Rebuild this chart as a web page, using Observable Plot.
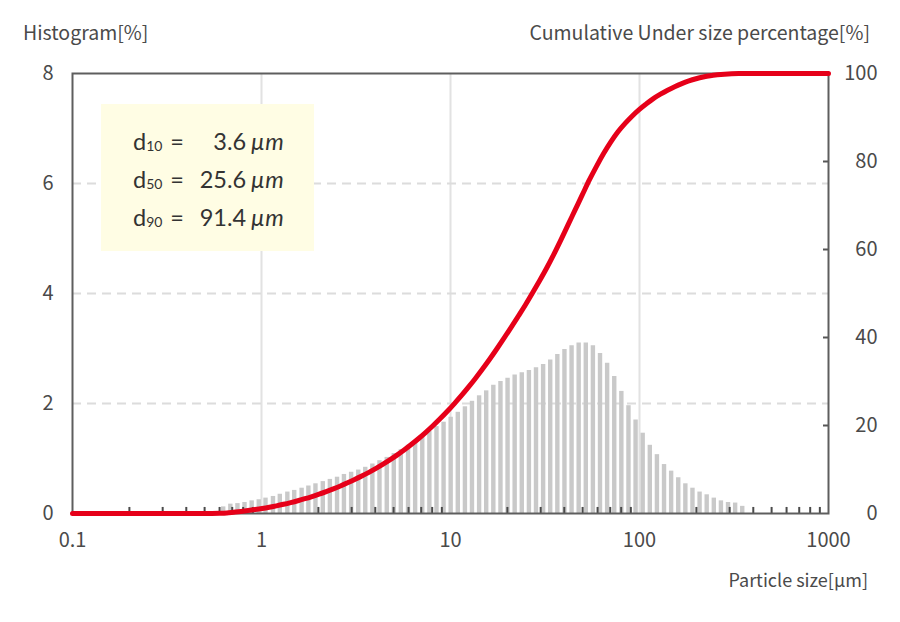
<!DOCTYPE html>
<html>
<head>
<meta charset="utf-8">
<script src="https://cdn.jsdelivr.net/npm/d3@7"></script>
<script src="https://cdn.jsdelivr.net/npm/@observablehq/plot@0.6"></script>
<style>
  html, body { margin: 0; padding: 0; background: #fff; }
  #wrap { position: relative; width: 900px; height: 622px; overflow: hidden; font-family: "Noto Sans CJK JP", "Noto Sans", sans-serif; color: #4a4a4a; }
  #wrap svg { position: absolute; left: 0; top: 0; }
  .ttl { position: absolute; font-size: 19.5px; line-height: 1; white-space: nowrap; }
  #box { position: absolute; left: 101px; top: 104px; width: 213px; height: 147px; background: #fffde4; font-family: Lato, "Open Sans", sans-serif; color: #333; box-sizing: border-box; padding: 18px 0 0 32px; }
  .ln { height: 38px; line-height: 38px; font-size: 23.5px; white-space: nowrap; }
  .ln sub { font-size: 14px; vertical-align: baseline; position: relative; top: 1px; display: inline-block; width: 20px; }
  .ln .eq { display: inline-block; width: 22px; text-align: center; }
  .ln .v { display: inline-block; width: 58px; text-align: right; }
  .ln i { margin-left: 5px; letter-spacing: 1px; }
</style>
</head>
<body>
<div id="wrap"></div>
<script>
// ---- data ----
const barSizes = [0.627, 0.684, 0.746, 0.813, 0.887, 0.967, 1.05, 1.15, 1.25, 1.37, 1.49, 1.63, 1.77, 1.93, 2.11, 2.30, 2.51, 2.73, 2.98, 3.25, 3.54, 3.86, 4.21, 4.60, 5.01, 5.46, 5.96, 6.50, 7.09, 7.73, 8.43, 9.19, 10.02, 10.93, 11.92, 12.99, 14.17, 15.45, 16.85, 18.38, 20.04, 21.85, 23.83, 25.99, 28.34, 30.91, 33.70, 36.75, 40.08, 43.71, 47.66, 51.98, 56.68, 61.81, 67.41, 73.51, 80.16, 87.42, 95.33, 103.96, 113.37, 123.63, 134.82, 147.02, 160.33, 174.84, 190.66, 207.92, 226.73, 247.25, 269.63, 294.03, 320.64, 349.66];
const histogramPct = [0.12, 0.17, 0.18, 0.20, 0.23, 0.25, 0.28, 0.31, 0.35, 0.39, 0.42, 0.46, 0.50, 0.54, 0.58, 0.62, 0.66, 0.71, 0.75, 0.79, 0.84, 0.90, 0.96, 1.02, 1.09, 1.16, 1.24, 1.32, 1.41, 1.49, 1.58, 1.66, 1.75, 1.84, 1.94, 2.04, 2.14, 2.23, 2.33, 2.40, 2.46, 2.52, 2.56, 2.60, 2.65, 2.71, 2.79, 2.89, 2.98, 3.05, 3.10, 3.10, 3.05, 2.91, 2.73, 2.49, 2.22, 1.96, 1.70, 1.46, 1.24, 1.07, 0.89, 0.77, 0.65, 0.54, 0.46, 0.39, 0.34, 0.28, 0.23, 0.20, 0.19, 0.13];

const curveSizes = [0.1, 0.5, 0.6, 0.655, 0.713, 0.778, 0.848, 0.925, 1.009, 1.10, 1.20, 1.308, 1.427, 1.556, 1.697, 1.85, 2.018, 2.2, 2.4, 2.616, 2.853, 3.111, 3.393, 3.7, 4.035, 4.4, 4.798, 5.232, 5.706, 6.222, 6.785, 7.4, 8.07, 8.8, 9.596, 10.46, 11.41, 12.44, 13.57, 14.8, 16.14, 17.6, 19.19, 20.93, 22.82, 24.89, 27.14, 29.6, 32.28, 35.2, 38.39, 41.86, 45.65, 49.78, 54.29, 59.2, 64.56, 70.4, 76.77, 83.71, 91.29, 99.55, 108.6, 118.4, 129.1, 140.8, 153.5, 167.4, 182.5, 199.1, 217.1, 236.8, 258.2, 281.6, 307.1, 334.9, 365.2, 1000];
const cumulativePct = [0, 0, 0.05, 0.12, 0.29, 0.47, 0.67, 0.90, 1.15, 1.43, 1.74, 2.09, 2.48, 2.90, 3.36, 3.86, 4.40, 4.98, 5.60, 6.26, 6.97, 7.72, 8.51, 9.35, 10.25, 11.21, 12.23, 13.32, 14.48, 15.72, 17.04, 18.45, 19.94, 21.52, 23.18, 24.93, 26.77, 28.71, 30.75, 32.89, 35.12, 37.45, 39.85, 42.31, 44.83, 47.39, 50.1, 52.9, 55.8, 58.9, 62.2, 65.6, 69.0, 72.4, 75.8, 78.9, 81.8, 84.4, 86.7, 88.6, 90.3, 91.8, 93.1, 94.3, 95.3, 96.2, 97.0, 97.7, 98.3, 98.8, 99.2, 99.5, 99.7, 99.85, 99.95, 100, 100, 100];

const xTickLabels = [0.1, 1, 10, 100, 1000];
const xMinorTicks = [0.2, 0.3, 0.4, 0.5, 0.6, 0.7, 0.8, 0.9, 2, 3, 4, 5, 6, 7, 8, 9, 20, 30, 40, 50, 60, 70, 80, 90, 200, 300, 400, 500, 600, 700, 800, 900];
const xGridLines = [1, 10, 100];
const leftTicks = [0, 2, 4, 6, 8];
const leftGridLines = [2, 4, 6];
const rightTicks = [0, 20, 40, 60, 80, 100];
const rightInnerTicks = [20, 40, 60, 80];

const dSubscripts = ["10", "50", "90"];
const dValues = ["3.6", "25.6", "91.4"];

const titleLeft = "Histogram[%]";
const titleRight = "Cumulative Under size percentage[%]";
const titleX = "Particle size[µm]";

// ---- build ----
const bars = barSizes.map((s, i) => ({size: s, pct: histogramPct[i]}));
const curve = curveSizes.map((s, i) => ({size: s, cum: cumulativePct[i]}));
const k = 8 / 100; // right axis (0-100) onto left axis (0-8)

const chart = Plot.plot({
  width: 900,
  height: 622,
  marginLeft: 72,
  marginRight: 72,
  marginTop: 73,
  marginBottom: 109,
  style: {fontFamily: "'Noto Sans CJK JP', 'Noto Sans', sans-serif", fontSize: "20px", color: "#4a4a4a", background: "transparent", overflow: "visible"},
  x: {type: "log", domain: [0.1, 1000]},
  y: {domain: [0, 8]},
  marks: [
    Plot.ruleX(xGridLines, {stroke: "#e2e2e2", strokeWidth: 2}),
    Plot.ruleY(leftGridLines, {stroke: "#dcdcdc", strokeWidth: 2, strokeDasharray: "9,6"}),
    Plot.ruleX(bars, {x: "size", y1: 0, y2: "pct", stroke: "#c9c9c9", strokeWidth: 4.4}),
    Plot.ruleX(xMinorTicks, {y1: 0, y2: 0.11, stroke: "#4a4a4a", strokeWidth: 2}),
    Plot.axisY({anchor: "left", ticks: leftTicks, tickSize: 0, tickPadding: 19, tickFormat: d => String(d), label: null, fontSize: 20}),
    Plot.axisY({anchor: "right", ticks: rightTicks.map(v => v * k), tickSize: 0, tickPadding: 49, textAnchor: "end", tickFormat: d => String(Math.round(d / k)), label: null, fontSize: 20}),
    Plot.axisY({anchor: "right", ticks: rightInnerTicks.map(v => v * k), tickSize: -6, tickFormat: () => "", label: null, stroke: "#555", strokeWidth: 2}),
    Plot.axisX({ticks: xTickLabels, tickSize: 0, tickPadding: 19, tickFormat: d => String(d), label: null, fontSize: 20}),
    Plot.frame({stroke: "#5e5e5e", strokeWidth: 2}),
    Plot.line(curve, {x: "size", y: d => d.cum * k, stroke: "#e60019", strokeWidth: 5, curve: "monotone-x"})
  ]
});

const wrap = document.getElementById("wrap");
wrap.appendChild(chart);

function addTitle(text, style) {
  const el = document.createElement("div");
  el.className = "ttl";
  el.textContent = text;
  Object.assign(el.style, style);
  wrap.appendChild(el);
}
addTitle(titleLeft, {left: "23px", top: "22px"});
addTitle(titleRight, {right: "30px", top: "22px"});
addTitle(titleX, {right: "32px", top: "570px", fontSize: "18px"});

const box = document.createElement("div");
box.id = "box";
dSubscripts.forEach((sub, i) => {
  const ln = document.createElement("div");
  ln.className = "ln";
  ln.innerHTML = `d<sub>${sub}</sub><span class="eq">=</span><span class="v">${dValues[i]}</span><i>μm</i>`;
  box.appendChild(ln);
});
wrap.appendChild(box);
</script>
</body>
</html>
